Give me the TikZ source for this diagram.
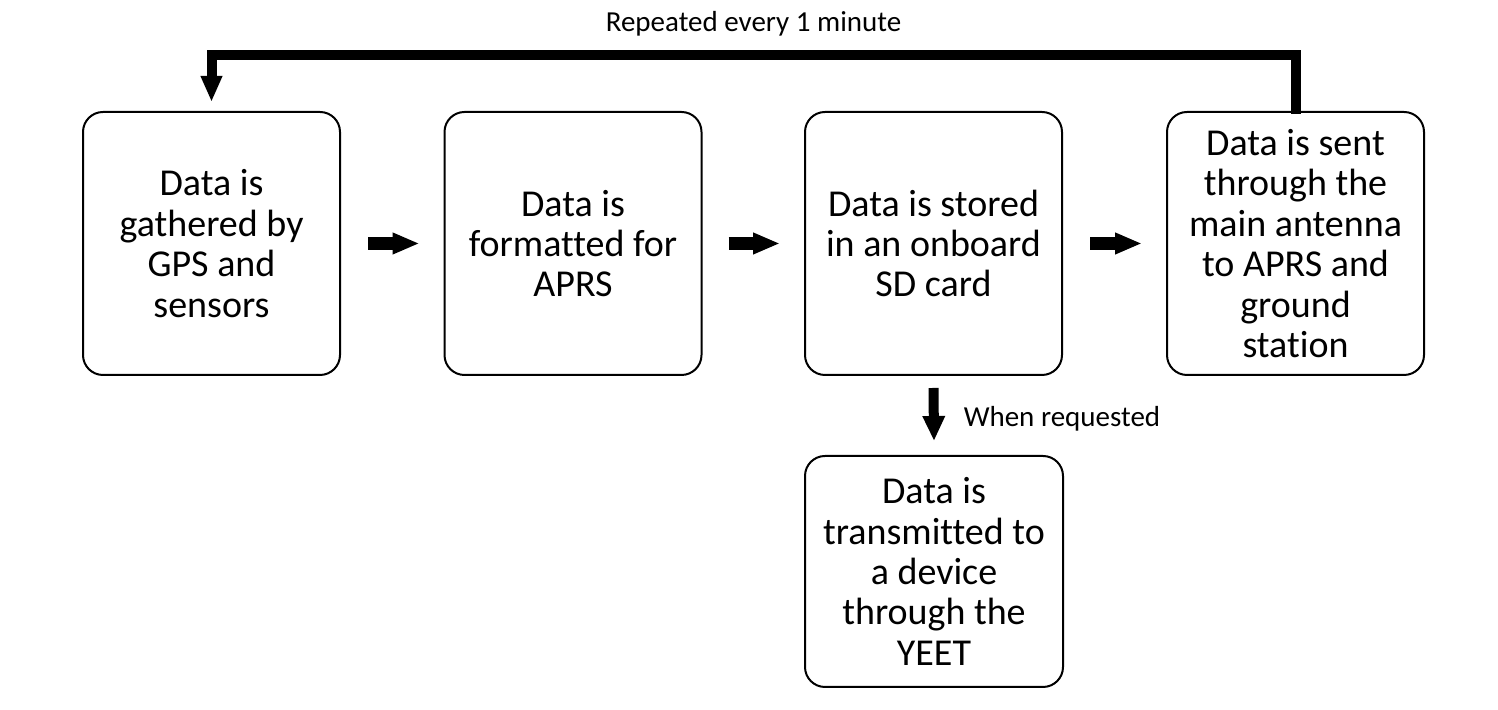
\documentclass[tikz,border=0pt]{standalone}
\usepackage{fontspec}
\setmainfont{Carlito}[Ligatures=NoCommon]
\usetikzlibrary{arrows.meta}
\begin{document}
\begin{tikzpicture}[x=0.5pt, y=0.5pt,
    caja/.style={draw, line width=1pt, rounded corners=10pt, align=center,
        inner sep=0pt, minimum width=128.5pt, minimum height=131.5pt,
        font=\fontsize{19}{20.2}\selectfont},
    texto/.style={inner sep=0pt, font=\fontsize{14.5}{17}\selectfont},
    flecha/.style={line width=6.5pt, -{Triangle[length=13.5pt, width=10pt]}},
    flechab/.style={line width=5pt, -{Triangle[length=12.5pt, width=10.5pt]}},
    bucle/.style={line width=5pt, -{Triangle[length=13pt, width=10pt]}}]

    % Marco
    \useasboundingbox (0,0) rectangle (1498,710);

    % Cajas
    \node[caja] (gps) at (211.5,466.5) {Data is\\gathered by\\GPS and\\sensors};
    \node[caja] (aprs) at (573,466.5) {Data is\\formatted for\\APRS};
    \node[caja] (sd) at (933.5,466.5) {Data is stored\\in an onboard\\SD card};
    \node[caja] (antena) at (1295.5,466.5) {Data is sent\\through the\\main antenna\\to APRS and\\ground\\station};
    \node[caja, minimum width=129pt, minimum height=115.5pt] (yeet) at (934,138.5)
        {Data is\\transmitted to\\a device\\through the\\YEET};

    % Flechas
    \draw[flecha] ([xshift=13.5pt]gps.east) -- ([xshift=-12pt]aprs.west);
    \draw[flecha] ([xshift=13pt]aprs.east) -- ([xshift=-12pt]sd.west);
    \draw[flecha] ([xshift=13.5pt]sd.east) -- ([xshift=-12pt]antena.west);

    % Bajo pedido
    \draw[flechab] ([yshift=-6pt]sd.south) -- ([yshift=7pt]yeet.north)
        node[midway, right=12.5pt, yshift=-2pt, texto] (pedido) {When requested};

    % Ciclo
    \draw[bucle] ([yshift=-1.5pt]antena.north) -- ++(0,58.5) -| ([yshift=4.5pt]gps.north)
        node[pos=0.25, above=7pt, texto] (ciclo) {Repeated every 1 minute};
\end{tikzpicture}
\end{document}
